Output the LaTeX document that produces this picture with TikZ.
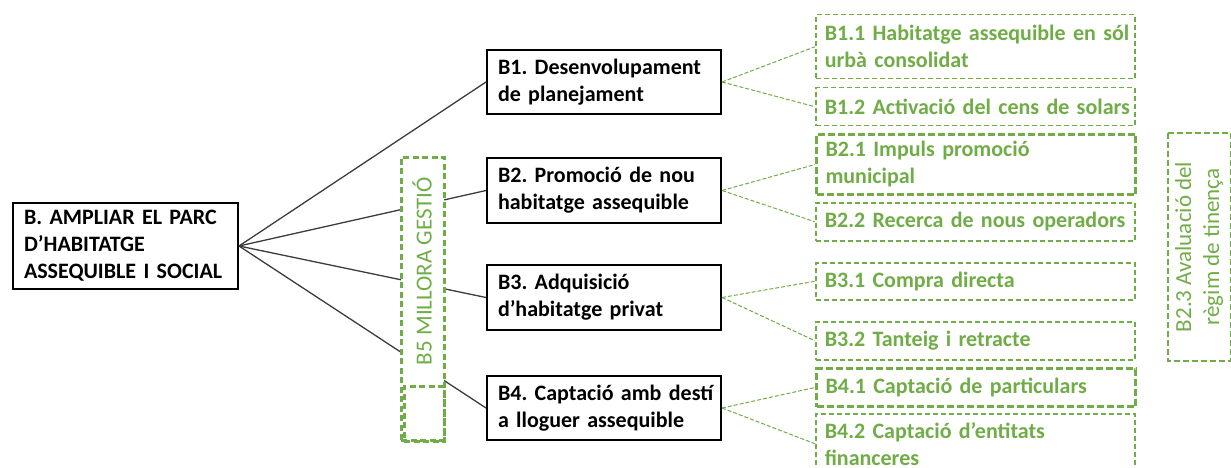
\documentclass[tikz,border=0pt]{standalone}
\usepackage{fontspec}
\setmainfont{Carlito}
\definecolor{leaf}{RGB}{112,173,71}
\definecolor{wire}{RGB}{60,60,60}
\frenchspacing
\begin{document}
\begin{tikzpicture}[x=1pt,y=-1pt,
  txt/.style={font=\fontsize{22}{27}\selectfont\bfseries},
  blackbox/.style={txt, draw=black, line width=2pt, fill=white, anchor=north west,
    inner xsep=11pt, inner ysep=0pt, align=left},
  greenbox/.style={txt, text=leaf, draw=leaf, line width=1.5pt, dash pattern=on 5pt off 3pt,
    fill=white, anchor=north west, inner xsep=9pt, inner ysep=0pt, align=left},
  heavygreen/.style={greenbox, line width=3pt, dash pattern=on 7pt off 3pt},
  trunk/.style={draw=wire, line width=1.3pt},
  twig/.style={draw=leaf, line width=1pt, dash pattern=on 4pt off 2pt},
  bandbox/.style={draw=leaf, line width=2.5pt, dash pattern=on 6pt off 3.5pt, fill=white,
    anchor=north west, inner sep=0pt},
  bandtext/.style={text=leaf, font=\fontsize{23}{28}\selectfont, rotate=90, align=center}
]
\useasboundingbox (0,0) rectangle (1231,468);

% root and first-level actions
\node[blackbox, text width=203pt, minimum height=86pt] (root) at (12,202)
  {\mbox{B. AMPLIAR EL PARC}\\\mbox{D’HABITATGE}\\\mbox{ASSEQUIBLE I SOCIAL}};
\node[blackbox, text width=212pt, minimum height=64pt] (b1) at (486,49)
  {\mbox{B1. Desenvolupament}\\\mbox{de planejament}};
\node[blackbox, text width=212pt, minimum height=65pt] (b2) at (486,157)
  {\mbox{B2. Promoció de nou}\\\mbox{habitatge assequible}};
\node[blackbox, text width=212pt, minimum height=65pt] (b3) at (486,264)
  {\mbox{B3. Adquisició}\\\mbox{d’habitatge privat}};
\node[blackbox, text width=212pt, minimum height=64pt] (b4) at (486,375)
  {\mbox{B4. Captació amb destí}\\\mbox{a lloguer assequible}};

% second-level measures
\node[greenbox, text width=301pt, minimum height=64pt] (b11) at (815,14)
  {\mbox{B1.1 Habitatge assequible en sól}\\\mbox{urbà consolidat}};
\node[greenbox, text width=301pt, minimum height=38pt] (b12) at (815,87)
  {\mbox{B1.2 Activació del cens de solars}};
\node[heavygreen, text width=301pt, minimum height=60pt] (b21) at (815,133)
  {\mbox{B2.1 Impuls promoció}\\\mbox{municipal}};
\node[greenbox, text width=301pt, minimum height=38pt] (b22) at (815,202)
  {\mbox{B2.2 Recerca de nous operadors}};
\node[greenbox, text width=301pt, minimum height=37pt] (b31) at (815,262)
  {\mbox{B3.1 Compra directa}};
\node[greenbox, text width=301pt, minimum height=38pt] (b32) at (815,321)
  {\mbox{B3.2 Tanteig i retracte}};
\node[heavygreen, text width=301pt, minimum height=38pt] (b41) at (815,367)
  {\mbox{B4.1 Captació de particulars}};
\node[greenbox, text width=301pt, minimum height=60pt] (b42) at (815,413)
  {\mbox{B4.2 Captació d’entitats}\\\mbox{financeres}};

% branches from the root
\draw[trunk] (root.east) -- (b1.west);
\draw[trunk] (root.east) -- (b2.west);
\draw[trunk] (root.east) -- (b3.west);
\draw[trunk] (root.east) -- (b4.west);

% branches to the measures
\draw[twig] (b1.east) -- (b11.west);
\draw[twig] (b1.east) -- (b12.west);
\draw[twig] (b2.east) -- (b21.west);
\draw[twig] (b2.east) -- (b22.west);
\draw[twig] (b3.east) -- (b31.west);
\draw[twig] (b3.east) -- (b32.west);
\draw[twig] (b4.east) -- (b41.west);
\draw[twig] (b4.east) -- (b42.west);

% transversal management band
\node[bandbox, minimum width=43pt, minimum height=283pt] (b5) at (400,156) {};
\node[bandbox, fill=none, minimum width=40pt, minimum height=55pt] (b5foot) at (403,385) {};
\node[bandtext] (b5label) at (422,271) {B5 MILLORA GESTIÓ};

% tenure evaluation
\node[draw=leaf, line width=2pt, dash pattern=on 6pt off 3pt, rotate=90,
  minimum width=228pt, minimum height=63pt, inner sep=0pt,
  text=leaf, font=\fontsize{23}{28}\selectfont, align=center] (b23) at (1199,247)
  {B2.3 Avaluació del\\règim de tinença};
\end{tikzpicture}
\end{document}
